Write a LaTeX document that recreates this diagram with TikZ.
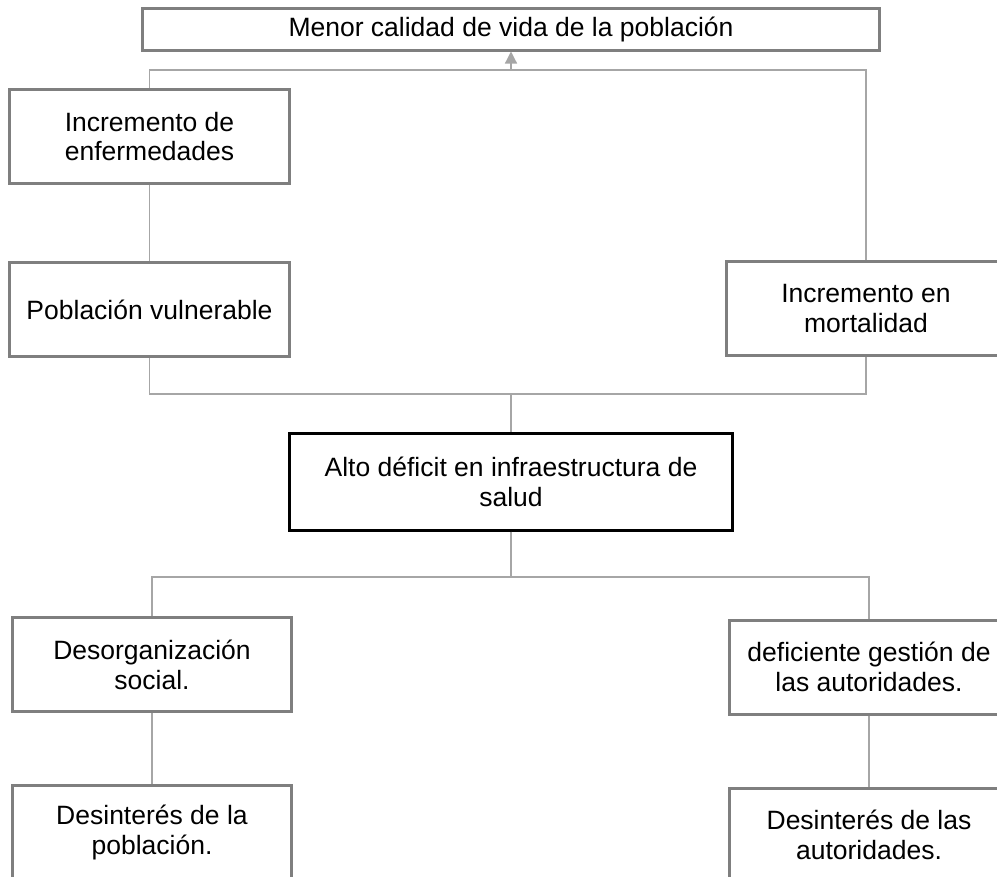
\documentclass[tikz,border=0pt]{standalone}
\usepackage{fontspec}
\setmainfont{Liberation Sans}
\usepackage{tikz}
\usetikzlibrary{arrows.meta,positioning}
\definecolor{BoxGray}{HTML}{7F7F7F}
\definecolor{LineGray}{HTML}{A6A6A6}
\tikzset{
  effectbox/.style={draw=BoxGray,line width=1.5bp,fill=white,align=center,
              minimum width=139.5bp,minimum height=47bp,inner sep=2pt,
              font=\fontsize{13.3}{15}\selectfont},
  corebox/.style={effectbox,draw=black,minimum width=221.5bp,minimum height=48.5bp},
  headbox/.style={effectbox,minimum width=368bp,minimum height=21bp},
  link/.style={draw=LineGray,line width=0.6bp},
  uplink/.style={link,-{Triangle[length=6bp,width=6bp]}}
}
\begin{document}
\begin{tikzpicture}[x=0.5bp,y=-0.5bp]
  \useasboundingbox (0,0) rectangle (997,877);
  \clip (0,0) rectangle (997,877);
  % effects
  \node[headbox] (head) at (511,29) {Menor calidad de vida de la población};
  \node[effectbox] (enf) at (149.5,136.5) {Incremento de\\enfermedades};
  \node[effectbox,below=38bp of enf] (pob) {Población vulnerable};
  \node[effectbox] (mort) at (866,308.5) {Incremento en\\mortalidad};
  % core problem
  \node[corebox] (core) at (511,481.5) {Alto déficit en infraestructura de\\salud};
  % causes
  \node[effectbox] (desorg) at (152,664.5) {Desorganización\\social.};
  \node[effectbox,below=35.5bp of desorg] (despob) {Desinterés de la\\población.};
  \node[effectbox] (gestion) at (869,667) {deficiente gestión de\\las autoridades.};
  \node[effectbox,below=35.5bp of gestion] (desaut) {Desinterés de las\\autoridades.};
  \coordinate (jtop) at (511,70);
  \coordinate (jmid) at (511,394);
  \coordinate (jbot) at (511,577);
  \draw[link] (enf.north) |- (jtop) -| (mort.north);
  \draw[uplink] (jtop) -- (head.south);
  \draw[link] (enf) -- (pob);
  \draw[link] (pob.south) |- (jmid) -| (mort.south);
  \draw[link] (jmid) -- (core.north);
  \draw[link] (core.south) -- (jbot);
  \draw[link] (desorg.north) |- (jbot) -| (gestion.north);
  \draw[link] (desorg) -- (despob);
  \draw[link] (gestion) -- (desaut);
\end{tikzpicture}
\end{document}
